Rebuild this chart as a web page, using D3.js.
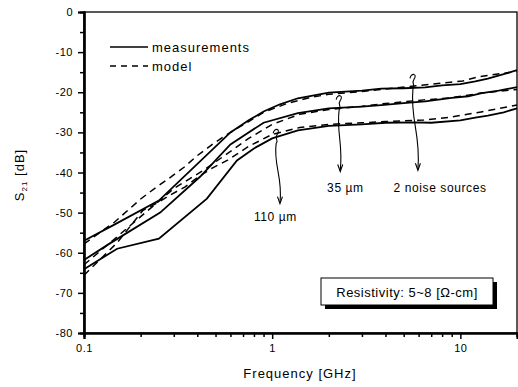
<!DOCTYPE html>
<html><head><meta charset="utf-8">
<script src="https://cdn.jsdelivr.net/npm/d3@7/dist/d3.min.js"></script>
<style>
body{margin:0;background:#fff;}
text{font-family:"Liberation Sans",Arial,sans-serif;fill:#000;}
</style></head>
<body><svg id="c" width="518" height="387"></svg>
<script>
// ---- data ----
const xMajorTicks = [0.1, 1, 10];
const xMinorTicks = [0.2,0.3,0.4,0.5,0.6,0.7,0.8,0.9,2,3,4,5,6,7,8,9,20];
const yMajorTicks = [0,-10,-20,-30,-40,-50,-60,-70,-80];
const yMinorTicks = [-5,-15,-25,-35,-45,-55,-65,-75];

// measurements (solid)
const measNoiseF = [0.1,0.145,0.25,0.6,0.75,0.9,1.1,1.37,2,3,3.8,5,6.5,8,10,12,14,17,20];
const measNoise  = [-57,-53,-47,-30,-27,-24.8,-23,-21.5,-20.1,-19.6,-19.1,-19,-18.8,-18.3,-18,-17.3,-16.6,-15.5,-14.5];
const meas35F = [0.1,0.138,0.254,0.415,0.6,0.9,1.37,2,3,3.8,5,6.5,9,11,13,16,20];
const meas35  = [-61.8,-57.6,-50,-41,-33,-27.6,-25.2,-24,-23.6,-23.2,-22.7,-22.3,-21.4,-21,-20.2,-19.6,-18.7];
const meas110F = [0.1,0.15,0.25,0.45,0.65,0.8,1,1.37,2,3,4,5.7,7,10,12,14,17,20];
const meas110  = [-64.1,-59,-56.5,-46.5,-37,-34,-31.5,-29.5,-28.4,-28,-27.6,-27.5,-27.6,-27,-26.3,-25.8,-25,-24];

// model (dashed)
const modNoiseF = [0.1,0.145,0.2,0.24,0.29,0.34,0.4,0.49,0.6,0.75,0.9,1.2,1.6,2,3,4,6.4,8.9,10.3,12.3,14.6,20];
const modNoise  = [-57.8,-52.4,-46.6,-43.8,-41.1,-38.7,-35.8,-32.7,-30,-27.3,-25,-22.8,-21.3,-20.5,-19.8,-19.2,-18.2,-17.5,-17.2,-16.2,-15.7,-14.8];
const mod35F = [0.1,0.15,0.2,0.3,0.43,0.59,0.75,1,1.4,2,3,4,6.4,8.9,12.9,20];
const mod35  = [-63,-56,-51,-44,-39.5,-35,-31.5,-28,-25.5,-24.3,-23.5,-22.8,-21.9,-21.4,-20.2,-19.3];
const mod110F = [0.1,0.15,0.206,0.245,0.287,0.345,0.405,0.48,0.58,0.75,1,1.4,2,3,4,6.4,8.9,12.9,20];
const mod110  = [-65.6,-57.5,-49.4,-47.6,-45.6,-43.6,-41.1,-38.9,-36.9,-33.5,-30.5,-28.8,-28,-27.6,-27.3,-26.9,-26.2,-24.9,-23.2];

// annotations: label, curve point (f,dB), arrow tip (f,dB), label pos (f,dB)
const annLabels = ["110 \u00b5m","35 \u00b5m","2 noise sources"];
const annCurve  = [[1.05,-31],[2.27,-22.6],[5.6,-17.3]];
const annTip    = [[1.1,-47.5],[2.3,-39.5],[5.95,-39.2]];
const annText   = [[1.04,-51],[2.45,-43.8],[7.8,-43.8]];

// ---- chart ----
const svg = d3.select("#c");
const L=84, R=517, T=12, B=333;
const x = d3.scaleLog().domain([0.1,20]).range([L,R]);
const y = d3.scaleLinear().domain([-80,0]).range([B,T]);

// frame
svg.append("rect").attr("x",L).attr("y",T).attr("width",R-L).attr("height",B-T)
  .attr("fill","none").attr("stroke","#000").attr("stroke-width",1.3);

// axes
const fmtX = d => d>=1 ? String(d) : "0.1";
const gx = svg.append("g").attr("transform",`translate(0,${B})`)
  .call(d3.axisBottom(x).tickValues(xMajorTicks).tickFormat(fmtX).tickSize(6).tickPadding(5));
const gxm = svg.append("g").attr("transform",`translate(0,${B})`)
  .call(d3.axisBottom(x).tickValues(xMinorTicks).tickFormat("").tickSize(4));
const gy = svg.append("g").attr("transform",`translate(${L},0)`)
  .call(d3.axisLeft(y).tickValues(yMajorTicks).tickFormat(d=>d===0?"0":String(d)).tickSize(6).tickPadding(5));
const gym = svg.append("g").attr("transform",`translate(${L},0)`)
  .call(d3.axisLeft(y).tickValues(yMinorTicks).tickFormat("").tickSize(4));
[gx,gxm,gy,gym].forEach(g=>{
  g.selectAll(".domain").attr("stroke","#000").attr("stroke-width",2.2);
  g.selectAll(".tick line").attr("stroke","#000").attr("stroke-width",1.5);
  g.selectAll("text").attr("font-size",11).attr("font-family","Liberation Sans, Arial").attr("letter-spacing","0.5px");
});

// curves
const line = d3.line().x(d=>x(d[0])).y(d=>y(d[1]));
const zip = (f,v)=>f.map((d,i)=>[d,v[i]]);
const meas = [zip(measNoiseF,measNoise),zip(meas35F,meas35),zip(meas110F,meas110)];
const mods = [zip(modNoiseF,modNoise),zip(mod35F,mod35),zip(mod110F,mod110)];
svg.append("g").selectAll("path").data(mods).join("path")
  .attr("d",line).attr("fill","none").attr("stroke","#000").attr("stroke-width",1.5)
  .attr("stroke-dasharray","7,5");
svg.append("g").selectAll("path").data(meas).join("path")
  .attr("d",line).attr("fill","none").attr("stroke","#000").attr("stroke-width",1.8);

// legend
const lg = svg.append("g");
lg.append("line").attr("x1",110).attr("x2",148).attr("y1",47).attr("y2",47).attr("stroke","#000").attr("stroke-width",1.6);
lg.append("line").attr("x1",110).attr("x2",148).attr("y1",66).attr("y2",66).attr("stroke","#000").attr("stroke-width",1.6).attr("stroke-dasharray","6,5");
lg.append("text").attr("x",152).attr("y",51.5).attr("font-size",13).attr("letter-spacing","1px").text("measurements");
lg.append("text").attr("x",152).attr("y",70.5).attr("font-size",13).attr("letter-spacing","1px").text("model");

// annotations
annLabels.forEach((lab,i)=>{
  const cx = x(annCurve[i][0]), cy = y(annCurve[i][1]);
  const tx = x(annTip[i][0]), ty = y(annTip[i][1]);
  const p = d3.path();
  p.moveTo(cx-3, cy-3);
  p.bezierCurveTo(cx-2, cy-9, cx+5, cy-8, cx+1, cy-2);
  p.bezierCurveTo(cx-2, cy+2, cx+3, cy+4, cx, cy+7);
  const my = (cy+7+ty)/2;
  p.bezierCurveTo(cx-3, my-8, tx+3, my+4, tx, ty);
  svg.append("path").attr("d",p.toString()).attr("fill","none").attr("stroke","#000").attr("stroke-width",1.1);
  svg.append("path").attr("d",`M${tx-2.5},${ty-6}L${tx},${ty+1}L${tx+2.5},${ty-6}`)
    .attr("fill","none").attr("stroke","#000").attr("stroke-width",1.1);
  svg.append("text").attr("x",x(annText[i][0])).attr("y",y(annText[i][1])+4)
    .attr("text-anchor","middle").attr("font-size",12).attr("letter-spacing","0.6px").text(lab);
});

// resistivity box
svg.append("rect").attr("x",325).attr("y",282).attr("width",172).attr("height",27).attr("fill","#000");
svg.append("rect").attr("x",321).attr("y",278).attr("width",172).attr("height",27).attr("fill","#fff").attr("stroke","#000").attr("stroke-width",1);
svg.append("text").attr("x",407).attr("y",296.5).attr("text-anchor","middle").attr("font-size",13)
  .attr("letter-spacing","0.5px").text("Resistivity: 5~8 [\u03a9-cm]");

// axis titles
svg.append("text").attr("x",300).attr("y",378).attr("text-anchor","middle").attr("font-size",13)
  .attr("letter-spacing","1px").text("Frequency [GHz]");
const yt = svg.append("text").attr("transform","translate(24,175) rotate(-90)").attr("text-anchor","middle")
  .attr("font-size",13).attr("letter-spacing","1px");
yt.append("tspan").text("S");
yt.append("tspan").attr("font-size",8).attr("dy",3).text("21");
yt.append("tspan").attr("dy",-3).text(" [dB]");
</script></body></html>
